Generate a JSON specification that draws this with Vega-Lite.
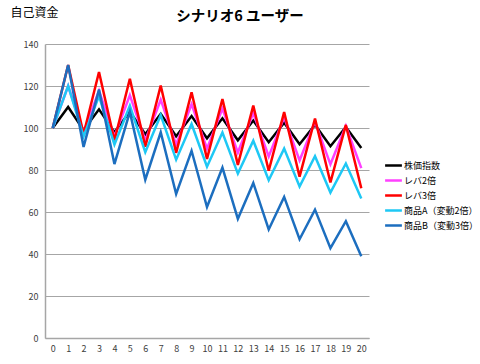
{
  "$schema": "https://vega.github.io/schema/vega-lite/v6.json",
  "width": 324,
  "height": 294,
  "autosize": "none",
  "padding": {"left": 45, "top": 44, "right": 111, "bottom": 26},
  "background": "white",
  "title": {"text": "シナリオ6 ユーザー", "font": "Noto Sans CJK JP", "fontSize": 14.5, "fontWeight": "bold", "color": "#000000", "anchor": "middle", "dx": 33, "offset": -18},
  "config": {"view": {"stroke": null}, "font": "Noto Sans CJK JP"},
  "data": {"values": [
    {"t":0,"s":"株価指数","v":100},{"t":1,"s":"株価指数","v":110},{"t":2,"s":"株価指数","v":99},{"t":3,"s":"株価指数","v":108.9},{"t":4,"s":"株価指数","v":98.01},{"t":5,"s":"株価指数","v":107.81},{"t":6,"s":"株価指数","v":97.03},{"t":7,"s":"株価指数","v":106.73},{"t":8,"s":"株価指数","v":96.06},{"t":9,"s":"株価指数","v":105.67},{"t":10,"s":"株価指数","v":95.10},{"t":11,"s":"株価指数","v":104.61},{"t":12,"s":"株価指数","v":94.15},{"t":13,"s":"株価指数","v":103.56},{"t":14,"s":"株価指数","v":93.21},{"t":15,"s":"株価指数","v":102.53},{"t":16,"s":"株価指数","v":92.27},{"t":17,"s":"株価指数","v":101.50},{"t":18,"s":"株価指数","v":91.35},{"t":19,"s":"株価指数","v":100.49},{"t":20,"s":"株価指数","v":90.44},
    {"t":0,"s":"レバ2倍","v":100},{"t":1,"s":"レバ2倍","v":120},{"t":2,"s":"レバ2倍","v":98},{"t":3,"s":"レバ2倍","v":117.8},{"t":4,"s":"レバ2倍","v":96.02},{"t":5,"s":"レバ2倍","v":115.62},{"t":6,"s":"レバ2倍","v":94.06},{"t":7,"s":"レバ2倍","v":113.47},{"t":8,"s":"レバ2倍","v":92.12},{"t":9,"s":"レバ2倍","v":111.33},{"t":10,"s":"レバ2倍","v":90.20},{"t":11,"s":"レバ2倍","v":109.22},{"t":12,"s":"レバ2倍","v":88.30},{"t":13,"s":"レバ2倍","v":107.13},{"t":14,"s":"レバ2倍","v":86.41},{"t":15,"s":"レバ2倍","v":105.05},{"t":16,"s":"レバ2倍","v":84.55},{"t":17,"s":"レバ2倍","v":103.00},{"t":18,"s":"レバ2倍","v":82.70},{"t":19,"s":"レバ2倍","v":100.97},{"t":20,"s":"レバ2倍","v":80.88},
    {"t":0,"s":"レバ3倍","v":100},{"t":1,"s":"レバ3倍","v":130},{"t":2,"s":"レバ3倍","v":97},{"t":3,"s":"レバ3倍","v":126.7},{"t":4,"s":"レバ3倍","v":94.03},{"t":5,"s":"レバ3倍","v":123.43},{"t":6,"s":"レバ3倍","v":91.09},{"t":7,"s":"レバ3倍","v":120.20},{"t":8,"s":"レバ3倍","v":88.18},{"t":9,"s":"レバ3倍","v":117.00},{"t":10,"s":"レバ3倍","v":85.30},{"t":11,"s":"レバ3倍","v":113.83},{"t":12,"s":"レバ3倍","v":82.44},{"t":13,"s":"レバ3倍","v":110.69},{"t":14,"s":"レバ3倍","v":79.62},{"t":15,"s":"レバ3倍","v":107.58},{"t":16,"s":"レバ3倍","v":76.82},{"t":17,"s":"レバ3倍","v":104.51},{"t":18,"s":"レバ3倍","v":74.06},{"t":19,"s":"レバ3倍","v":101.46},{"t":20,"s":"レバ3倍","v":71.31},
    {"t":0,"s":"商品A（変動2倍）","v":100},{"t":1,"s":"商品A（変動2倍）","v":120},{"t":2,"s":"商品A（変動2倍）","v":96},{"t":3,"s":"商品A（変動2倍）","v":115.2},{"t":4,"s":"商品A（変動2倍）","v":92.16},{"t":5,"s":"商品A（変動2倍）","v":110.59},{"t":6,"s":"商品A（変動2倍）","v":88.47},{"t":7,"s":"商品A（変動2倍）","v":106.17},{"t":8,"s":"商品A（変動2倍）","v":84.93},{"t":9,"s":"商品A（変動2倍）","v":101.92},{"t":10,"s":"商品A（変動2倍）","v":81.54},{"t":11,"s":"商品A（変動2倍）","v":97.84},{"t":12,"s":"商品A（変動2倍）","v":78.28},{"t":13,"s":"商品A（変動2倍）","v":93.93},{"t":14,"s":"商品A（変動2倍）","v":75.14},{"t":15,"s":"商品A（変動2倍）","v":90.17},{"t":16,"s":"商品A（変動2倍）","v":72.14},{"t":17,"s":"商品A（変動2倍）","v":86.57},{"t":18,"s":"商品A（変動2倍）","v":69.25},{"t":19,"s":"商品A（変動2倍）","v":83.10},{"t":20,"s":"商品A（変動2倍）","v":66.48},
    {"t":0,"s":"商品B（変動3倍）","v":100},{"t":1,"s":"商品B（変動3倍）","v":130},{"t":2,"s":"商品B（変動3倍）","v":91},{"t":3,"s":"商品B（変動3倍）","v":118.3},{"t":4,"s":"商品B（変動3倍）","v":82.81},{"t":5,"s":"商品B（変動3倍）","v":107.65},{"t":6,"s":"商品B（変動3倍）","v":75.36},{"t":7,"s":"商品B（変動3倍）","v":97.96},{"t":8,"s":"商品B（変動3倍）","v":68.57},{"t":9,"s":"商品B（変動3倍）","v":89.15},{"t":10,"s":"商品B（変動3倍）","v":62.40},{"t":11,"s":"商品B（変動3倍）","v":81.13},{"t":12,"s":"商品B（変動3倍）","v":56.79},{"t":13,"s":"商品B（変動3倍）","v":73.82},{"t":14,"s":"商品B（変動3倍）","v":51.68},{"t":15,"s":"商品B（変動3倍）","v":67.18},{"t":16,"s":"商品B（変動3倍）","v":47.03},{"t":17,"s":"商品B（変動3倍）","v":61.13},{"t":18,"s":"商品B（変動3倍）","v":42.78},{"t":19,"s":"商品B（変動3倍）","v":55.63},{"t":20,"s":"商品B（変動3倍）","v":38.94}
  ]},
  "mark": {"type": "line", "strokeWidth": 2.5, "strokeJoin": "miter"},
  "encoding": {
    "x": {"field": "t", "type": "ordinal", "sort": "ascending", "scale": {"type": "point", "padding": 0.5},
      "axis": {"title": null, "labelAngle": 0, "labelFontSize": 9, "labelColor": "#404040", "ticks": false, "labelPadding": 6, "domainColor": "#A6A6A6", "domainWidth": 1.5}},
    "y": {"field": "v", "type": "quantitative", "scale": {"domain": [0, 140], "nice": false, "zero": true},
      "axis": {"values": [0,20,40,60,80,100,120,140], "title": "自己資金", "titleAngle": 0, "titleX": -35, "titleY": -32, "titleAlign": "left", "titleBaseline": "middle", "titleFontSize": 12, "titleFontWeight": "normal", "titleColor": "#000000",
        "labelFontSize": 9, "labelColor": "#404040", "ticks": false, "labelPadding": 7, "gridColor": "#A6A6A6", "gridWidth": 1, "domainColor": "#A6A6A6", "domainWidth": 1.5}},
    "color": {"field": "s", "type": "nominal",
      "scale": {"domain": ["株価指数","レバ2倍","レバ3倍","商品A（変動2倍）","商品B（変動3倍）"], "range": ["#000000","#FF40FF","#FF0000","#1EC8F5","#1C6EBF"]},
      "legend": {"title": null, "orient": "none", "legendX": 342, "legendY": 115, "symbolType": "M-1.6,0H1.6", "symbolSize": 110, "symbolStrokeWidth": 2.5, "labelFontSize": 9, "labelColor": "#000000", "labelOffset": 4, "rowPadding": 3}}
  }
}
